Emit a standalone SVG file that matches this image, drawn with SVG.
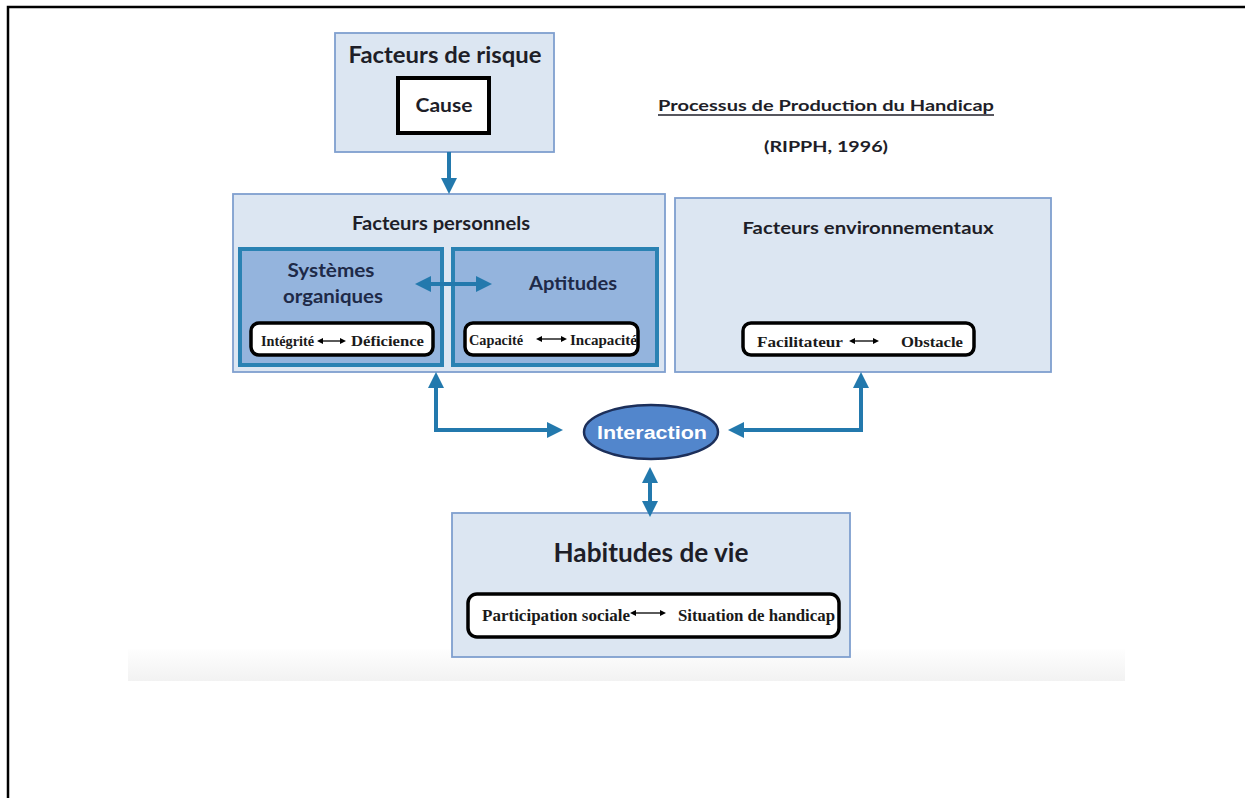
<svg xmlns="http://www.w3.org/2000/svg" width="1245" height="798" viewBox="0 0 1245 798">
  <style>
    .panel { fill: #dce6f2; stroke: #7f9fcf; stroke-width: 1.8; }
    .inner { fill: #94b4dd; stroke: #2a82b3; stroke-width: 4; }
    .pill { fill: #ffffff; stroke: #000000; stroke-width: 3.5; }
    .head { font-family: Lato, "Open Sans", sans-serif; font-weight: bold; fill: #1e1e28; text-anchor: middle; }
    .sub { font-family: Lato, "Open Sans", sans-serif; font-weight: bold; fill: #1e2a48; text-anchor: middle; }
    .serif { font-family: "Liberation Serif", "DejaVu Serif", serif; font-weight: bold; fill: #1a1a1a; }
    .link { fill: none; stroke: #2379ad; stroke-width: 4; stroke-linejoin: miter; }
    .mini { stroke: #000000; stroke-width: 1.3; fill: none; }
  </style>
  <defs>
    <marker id="arrow" viewBox="0 0 16 16" markerWidth="16" markerHeight="16" refX="6" refY="8" orient="auto-start-reverse" markerUnits="userSpaceOnUse">
      <path d="M0,0 L16,8 L0,16 Z" fill="#2379ad"/>
    </marker>
    <marker id="tiny" viewBox="0 0 6 6" markerWidth="6" markerHeight="6" refX="3" refY="3" orient="auto-start-reverse" markerUnits="userSpaceOnUse">
      <path d="M0,0 L6,3 L0,6 Z" fill="#000000"/>
    </marker>
    <linearGradient id="fade" x1="0" y1="0" x2="0" y2="1">
      <stop offset="0" stop-color="#fefefe"/>
      <stop offset="1" stop-color="#f2f2f2"/>
    </linearGradient>
  </defs>

  <!-- page -->
  <rect x="0" y="0" width="1245" height="798" fill="#ffffff"/>
  <rect x="128" y="649" width="997" height="32" fill="url(#fade)"/>
  <path d="M8,798 L8,7 L1245,7" fill="none" stroke="#000000" stroke-width="2.5"/>

  <!-- title -->
  <g id="title">
    <text x="826" y="111" class="head" font-size="16" textLength="336" lengthAdjust="spacingAndGlyphs">Processus de Production du Handicap</text>
    <line x1="658" y1="115" x2="994" y2="115" stroke="#1e1e28" stroke-width="1.3"/>
    <text x="826" y="152" class="head" font-size="16" textLength="124" lengthAdjust="spacingAndGlyphs">(RIPPH, 1996)</text>
  </g>

  <!-- risk factors -->
  <g id="facteurs-risque">
    <rect x="335" y="33" width="219" height="119" class="panel"/>
    <text x="445" y="63" class="head" font-size="22" textLength="193" lengthAdjust="spacingAndGlyphs">Facteurs de risque</text>
    <rect x="398" y="78" width="91" height="55" fill="#ffffff" stroke="#000000" stroke-width="4"/>
    <text x="444" y="112" class="head" font-size="18" textLength="57" lengthAdjust="spacingAndGlyphs">Cause</text>
  </g>

  <!-- personal factors -->
  <g id="facteurs-personnels">
    <rect x="233" y="194" width="432" height="178" class="panel"/>
    <text x="441" y="230" class="head" font-size="18" textLength="178" lengthAdjust="spacingAndGlyphs">Facteurs personnels</text>
  </g>

  <g id="systemes-organiques">
    <rect x="240" y="249" width="202" height="116" class="inner"/>
    <text x="331" y="277" class="sub" font-size="19" textLength="87" lengthAdjust="spacingAndGlyphs">Systèmes</text>
    <text x="333" y="303" class="sub" font-size="19" textLength="100" lengthAdjust="spacingAndGlyphs">organiques</text>
    <rect x="251" y="323" width="182" height="32" rx="8" class="pill"/>
    <text x="261" y="346" class="serif" font-size="14" textLength="53" lengthAdjust="spacingAndGlyphs">Intégrité</text>
    <line x1="320" y1="341" x2="343" y2="341" class="mini" marker-start="url(#tiny)" marker-end="url(#tiny)"/>
    <text x="351" y="346" class="serif" font-size="14" textLength="73" lengthAdjust="spacingAndGlyphs">Déficience</text>
  </g>

  <g id="aptitudes">
    <rect x="453" y="249" width="204" height="116" class="inner"/>
    <text x="573" y="290" class="sub" font-size="19" textLength="88" lengthAdjust="spacingAndGlyphs">Aptitudes</text>
    <rect x="465" y="323" width="173" height="32" rx="8" class="pill"/>
    <text x="469" y="345" class="serif" font-size="14" textLength="54" lengthAdjust="spacingAndGlyphs">Capacité</text>
    <line x1="539" y1="339" x2="564" y2="339" class="mini" marker-start="url(#tiny)" marker-end="url(#tiny)"/>
    <text x="570" y="345" class="serif" font-size="14" textLength="67" lengthAdjust="spacingAndGlyphs">Incapacité</text>
  </g>

  <!-- environmental factors -->
  <g id="facteurs-environnementaux">
    <rect x="675" y="198" width="376" height="174" class="panel"/>
    <text x="868" y="234" class="head" font-size="17" textLength="251" lengthAdjust="spacingAndGlyphs">Facteurs environnementaux</text>
    <rect x="743" y="323" width="231" height="32" rx="8" class="pill"/>
    <text x="757" y="347" class="serif" font-size="15" textLength="86" lengthAdjust="spacingAndGlyphs">Facilitateur</text>
    <line x1="852" y1="341" x2="876" y2="341" class="mini" marker-start="url(#tiny)" marker-end="url(#tiny)"/>
    <text x="901" y="347" class="serif" font-size="15" textLength="62" lengthAdjust="spacingAndGlyphs">Obstacle</text>
  </g>

  <!-- interaction -->
  <g id="interaction">
    <ellipse cx="651" cy="432" rx="67" ry="27" fill="#5286cc" stroke="#1c2f5a" stroke-width="2.5"/>
    <text x="652" y="439" font-family="'Liberation Sans', Arial, sans-serif" font-weight="bold" font-size="18" fill="#ffffff" text-anchor="middle" textLength="110" lengthAdjust="spacingAndGlyphs">Interaction</text>
  </g>

  <!-- life habits -->
  <g id="habitudes-de-vie">
    <rect x="452" y="513" width="398" height="144" class="panel"/>
    <text x="651" y="562" class="head" font-size="27" textLength="195" lengthAdjust="spacingAndGlyphs">Habitudes de vie</text>
    <rect x="468" y="594" width="371" height="43" rx="9" class="pill"/>
    <text x="482" y="621" class="serif" font-size="17" textLength="148" lengthAdjust="spacingAndGlyphs">Participation sociale</text>
    <line x1="633" y1="613" x2="663" y2="613" class="mini" marker-start="url(#tiny)" marker-end="url(#tiny)"/>
    <text x="678" y="621" class="serif" font-size="17" textLength="157" lengthAdjust="spacingAndGlyphs">Situation de handicap</text>
  </g>

  <!-- connectors -->
  <g id="connectors">
    <line x1="449" y1="152" x2="449" y2="184" class="link" marker-end="url(#arrow)"/>
    <line x1="425" y1="284" x2="482" y2="284" class="link" marker-start="url(#arrow)" marker-end="url(#arrow)"/>
    <polyline points="436,382 436,430 553,430" class="link" marker-start="url(#arrow)" marker-end="url(#arrow)"/>
    <polyline points="861,382 861,430 738,430" class="link" marker-start="url(#arrow)" marker-end="url(#arrow)"/>
    <line x1="650" y1="477" x2="650" y2="507" class="link" marker-start="url(#arrow)" marker-end="url(#arrow)"/>
  </g>
</svg>
